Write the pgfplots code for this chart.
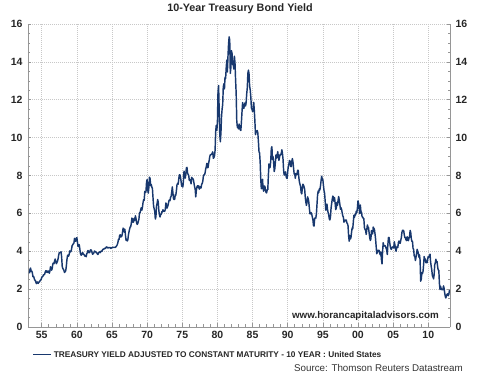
\documentclass[border=0pt]{standalone}
\usepackage{fontspec}
\setmainfont{Liberation Sans}
\usepackage{pgfplots}
\pgfplotsset{compat=1.18}
\definecolor{navy}{RGB}{24,56,110}
\definecolor{gridc}{RGB}{200,200,200}
\definecolor{axc}{RGB}{150,150,150}
\pgfplotsset{
  common/.style={
    scale only axis, width=422pt, height=303pt,
    at={(0pt,0pt)}, anchor=south west,
    xmin=1953.05, xmax=2013.09, ymin=0, ymax=16,
    ytick={0,2,...,16}, minor y tick num=3,
    axis line style={axc, line width=0.6pt, -},
    tick style={axc, line width=0.5pt},
    tick align=inside, major tick length=3.5pt, minor tick length=2.5pt,
    ticklabel style={font=\fontsize{10.5}{12}\selectfont\bfseries, text=black!85},
    /pgf/number format/assume math mode=true,
  }
}
\begin{document}
\begin{tikzpicture}
\begin{axis}[common,
  axis x line*=bottom, axis y line*=left,
  xtick={1955,1960,1965,1970,1975,1980,1985,1990,1995,2000,2005,2010},
  xticklabels={55,60,65,70,75,80,85,90,95,00,05,10},
  minor x tick num=4,
  grid=major, major grid style={gridc, dash pattern=on 0.8pt off 1.2pt, line width=0.5pt},
  yticklabel style={xshift=-2pt},
  xticklabel style={yshift=-1pt},
  legend style={at={(axis description cs:0.008,-0.092)}, anchor=west, draw=none, fill=none,
    font=\fontsize{8.3}{9}\selectfont\bfseries, text=black!85, inner sep=1pt},
  legend cell align=left,
  legend image code/.code={\draw[#1, line width=1.2pt] (0pt,0pt) -- (18pt,0pt);},
]
\addplot[navy, line width=1.45pt, line join=round] coordinates {
(1953.250,2.83)(1953.333,3.05)(1953.417,3.11)(1953.500,2.93)(1953.583,2.95)(1953.667,2.87)(1953.750,2.66)(1953.833,2.68)(1953.917,2.59)
(1954.000,2.48)(1954.083,2.47)(1954.167,2.37)(1954.250,2.29)(1954.333,2.37)(1954.417,2.38)(1954.500,2.30)(1954.583,2.36)(1954.667,2.38)(1954.750,2.43)(1954.833,2.48)(1954.917,2.51)
(1955.000,2.61)(1955.083,2.65)(1955.167,2.68)(1955.250,2.75)(1955.333,2.76)(1955.417,2.78)(1955.500,2.90)(1955.583,2.97)(1955.667,2.97)(1955.750,2.88)(1955.833,2.89)(1955.917,2.96)
(1956.000,2.90)(1956.083,2.84)(1956.167,2.96)(1956.250,3.18)(1956.333,3.07)(1956.417,3.00)(1956.500,3.11)(1956.583,3.33)(1956.667,3.38)(1956.750,3.34)(1956.833,3.49)(1956.917,3.59)
(1957.000,3.46)(1957.083,3.34)(1957.167,3.41)(1957.250,3.48)(1957.333,3.60)(1957.417,3.80)(1957.500,3.93)(1957.583,3.93)(1957.667,3.92)(1957.750,3.97)(1957.833,3.72)(1957.917,3.21)
(1958.000,3.09)(1958.083,3.05)(1958.167,2.98)(1958.250,2.88)(1958.333,2.92)(1958.417,2.97)(1958.500,3.20)(1958.583,3.54)(1958.667,3.76)(1958.750,3.80)(1958.833,3.74)(1958.917,3.86)
(1959.000,4.02)(1959.083,3.96)(1959.167,3.99)(1959.250,4.12)(1959.333,4.31)(1959.417,4.34)(1959.500,4.40)(1959.583,4.43)(1959.667,4.68)(1959.750,4.53)(1959.833,4.53)(1959.917,4.69)
(1960.000,4.72)(1960.083,4.49)(1960.167,4.25)(1960.250,4.28)(1960.333,4.35)(1960.417,4.15)(1960.500,3.90)(1960.583,3.80)(1960.667,3.80)(1960.750,3.89)(1960.833,3.93)(1960.917,3.84)
(1961.000,3.84)(1961.083,3.78)(1961.167,3.74)(1961.250,3.78)(1961.333,3.71)(1961.417,3.88)(1961.500,3.92)(1961.583,4.04)(1961.667,3.98)(1961.750,3.92)(1961.833,3.94)(1961.917,4.06)
(1962.000,4.08)(1962.083,4.04)(1962.167,3.93)(1962.250,3.84)(1962.333,3.87)(1962.417,3.91)(1962.500,4.01)(1962.583,3.98)(1962.667,3.98)(1962.750,3.93)(1962.833,3.92)(1962.917,3.86)
(1963.000,3.83)(1963.083,3.92)(1963.167,3.93)(1963.250,3.97)(1963.333,3.93)(1963.417,3.99)(1963.500,4.02)(1963.583,4.00)(1963.667,4.08)(1963.750,4.11)(1963.833,4.12)(1963.917,4.13)
(1964.000,4.17)(1964.083,4.15)(1964.167,4.22)(1964.250,4.23)(1964.333,4.20)(1964.417,4.17)(1964.500,4.19)(1964.583,4.19)(1964.667,4.20)(1964.750,4.19)(1964.833,4.15)(1964.917,4.18)
(1965.000,4.19)(1965.083,4.21)(1965.167,4.21)(1965.250,4.20)(1965.333,4.21)(1965.417,4.21)(1965.500,4.20)(1965.583,4.25)(1965.667,4.29)(1965.750,4.35)(1965.833,4.45)(1965.917,4.62)
(1966.000,4.61)(1966.083,4.83)(1966.167,4.87)(1966.250,4.75)(1966.333,4.78)(1966.417,4.81)(1966.500,5.02)(1966.583,5.22)(1966.667,5.18)(1966.750,5.01)(1966.833,5.16)(1966.917,4.84)
(1967.000,4.58)(1967.083,4.63)(1967.167,4.54)(1967.250,4.59)(1967.333,4.85)(1967.417,5.02)(1967.500,5.16)(1967.583,5.28)(1967.667,5.30)(1967.750,5.48)(1967.833,5.75)(1967.917,5.70)
(1968.000,5.53)(1968.083,5.56)(1968.167,5.74)(1968.250,5.64)(1968.333,5.87)(1968.417,5.72)(1968.500,5.50)(1968.583,5.42)(1968.667,5.46)(1968.750,5.58)(1968.833,5.70)(1968.917,6.03)
(1969.000,6.04)(1969.083,6.19)(1969.167,6.30)(1969.250,6.17)(1969.333,6.32)(1969.417,6.57)(1969.500,6.72)(1969.583,6.69)(1969.667,7.16)(1969.750,7.10)(1969.833,7.14)(1969.917,7.65)
(1970.000,7.79)(1970.083,7.24)(1970.167,7.07)(1970.250,7.39)(1970.333,7.91)(1970.417,7.84)(1970.500,7.46)(1970.583,7.53)(1970.667,7.39)(1970.750,7.33)(1970.833,6.84)(1970.917,6.39)
(1971.000,6.24)(1971.083,6.11)(1971.167,5.70)(1971.250,5.83)(1971.333,6.39)(1971.417,6.52)(1971.500,6.73)(1971.583,6.58)(1971.667,6.14)(1971.750,5.93)(1971.833,5.81)(1971.917,5.93)
(1972.000,5.95)(1972.083,6.08)(1972.167,6.07)(1972.250,6.19)(1972.333,6.13)(1972.417,6.11)(1972.500,6.11)(1972.583,6.21)(1972.667,6.55)(1972.750,6.48)(1972.833,6.28)(1972.917,6.36)
(1973.000,6.46)(1973.083,6.64)(1973.167,6.71)(1973.250,6.67)(1973.333,6.85)(1973.417,6.90)(1973.500,7.13)(1973.583,7.40)(1973.667,7.09)(1973.750,6.79)(1973.833,6.73)(1973.917,6.74)
(1974.000,6.99)(1974.083,6.96)(1974.167,7.21)(1974.250,7.51)(1974.333,7.58)(1974.417,7.54)(1974.500,7.81)(1974.583,8.04)(1974.667,8.04)(1974.750,7.90)(1974.833,7.68)(1974.917,7.43)
(1975.000,7.50)(1975.083,7.39)(1975.167,7.73)(1975.250,8.23)(1975.333,8.06)(1975.417,7.86)(1975.500,8.06)(1975.583,8.40)(1975.667,8.43)(1975.750,8.14)(1975.833,8.05)(1975.917,8.00)
(1976.000,7.74)(1976.083,7.79)(1976.167,7.73)(1976.250,7.56)(1976.333,7.90)(1976.417,7.86)(1976.500,7.83)(1976.583,7.77)(1976.667,7.59)(1976.750,7.41)(1976.833,7.29)(1976.917,6.87)
(1977.000,7.21)(1977.083,7.39)(1977.167,7.46)(1977.250,7.37)(1977.333,7.46)(1977.417,7.28)(1977.500,7.33)(1977.583,7.40)(1977.667,7.34)(1977.750,7.52)(1977.833,7.58)(1977.917,7.69)
(1978.000,7.96)(1978.083,8.03)(1978.167,8.04)(1978.250,8.15)(1978.333,8.35)(1978.417,8.46)(1978.500,8.64)(1978.583,8.41)(1978.667,8.42)(1978.750,8.64)(1978.833,8.81)(1978.917,9.01)
(1979.000,9.10)(1979.083,9.10)(1979.167,9.12)(1979.250,9.18)(1979.333,9.25)(1979.417,8.91)(1979.500,8.95)(1979.583,9.03)(1979.667,9.33)(1979.750,10.30)(1979.833,10.65)(1979.917,10.39)
(1980.000,10.80)(1980.083,12.41)(1980.167,12.75)(1980.250,11.47)(1980.333,10.18)(1980.417,9.78)(1980.500,10.25)(1980.583,11.10)(1980.667,11.51)(1980.750,11.75)(1980.833,12.68)(1980.917,12.84)
(1981.000,12.57)(1981.083,13.19)(1981.167,13.12)(1981.250,13.68)(1981.333,14.10)(1981.417,13.47)(1981.500,14.28)(1981.583,14.94)(1981.667,15.32)(1981.750,15.15)(1981.833,13.39)(1981.917,13.72)
(1982.000,14.59)(1982.083,14.43)(1982.167,13.86)(1982.250,13.87)(1982.333,13.62)(1982.417,14.30)(1982.500,13.95)(1982.583,13.06)(1982.667,12.34)(1982.750,10.91)(1982.833,10.55)(1982.917,10.54)
(1983.000,10.46)(1983.083,10.72)(1983.167,10.51)(1983.250,10.40)(1983.333,10.38)(1983.417,10.85)(1983.500,11.38)(1983.583,11.85)(1983.667,11.65)(1983.750,11.54)(1983.833,11.69)(1983.917,11.83)
(1984.000,11.67)(1984.083,11.84)(1984.167,12.32)(1984.250,12.63)(1984.333,13.41)(1984.417,13.56)(1984.500,13.36)(1984.583,12.72)(1984.667,12.52)(1984.750,12.16)(1984.833,11.57)(1984.917,11.50)
(1985.000,11.38)(1985.083,11.51)(1985.167,11.86)(1985.250,11.43)(1985.333,10.85)(1985.417,10.16)(1985.500,10.31)(1985.583,10.33)(1985.667,10.37)(1985.750,10.24)(1985.833,9.78)(1985.917,9.26)
(1986.000,9.19)(1986.083,8.70)(1986.167,7.78)(1986.250,7.30)(1986.333,7.71)(1986.417,7.80)(1986.500,7.30)(1986.583,7.17)(1986.667,7.45)(1986.750,7.43)(1986.833,7.25)(1986.917,7.11)
(1987.000,7.08)(1987.083,7.25)(1987.167,7.25)(1987.250,8.02)(1987.333,8.61)(1987.417,8.40)(1987.500,8.45)(1987.583,8.76)(1987.667,9.42)(1987.750,9.52)(1987.833,8.86)(1987.917,8.99)
(1988.000,8.67)(1988.083,8.21)(1988.167,8.37)(1988.250,8.72)(1988.333,9.09)(1988.417,8.92)(1988.500,9.06)(1988.583,9.26)(1988.667,8.98)(1988.750,8.80)(1988.833,8.96)(1988.917,9.11)
(1989.000,9.09)(1989.083,9.17)(1989.167,9.36)(1989.250,9.18)(1989.333,8.86)(1989.417,8.28)(1989.500,8.02)(1989.583,8.11)(1989.667,8.19)(1989.750,8.01)(1989.833,7.87)(1989.917,7.84)
(1990.000,8.21)(1990.083,8.47)(1990.167,8.59)(1990.250,8.79)(1990.333,8.76)(1990.417,8.48)(1990.500,8.47)(1990.583,8.75)(1990.667,8.89)(1990.750,8.72)(1990.833,8.39)(1990.917,8.08)
(1991.000,8.09)(1991.083,7.85)(1991.167,8.11)(1991.250,8.04)(1991.333,8.07)(1991.417,8.28)(1991.500,8.27)(1991.583,7.90)(1991.667,7.65)(1991.750,7.53)(1991.833,7.42)(1991.917,7.09)
(1992.000,7.03)(1992.083,7.34)(1992.167,7.54)(1992.250,7.48)(1992.333,7.39)(1992.417,7.26)(1992.500,6.84)(1992.583,6.59)(1992.667,6.42)(1992.750,6.59)(1992.833,6.87)(1992.917,6.77)
(1993.000,6.60)(1993.083,6.26)(1993.167,5.98)(1993.250,5.97)(1993.333,6.04)(1993.417,5.96)(1993.500,5.81)(1993.583,5.68)(1993.667,5.36)(1993.750,5.33)(1993.833,5.72)(1993.917,5.77)
(1994.000,5.75)(1994.083,5.97)(1994.167,6.48)(1994.250,6.97)(1994.333,7.18)(1994.417,7.10)(1994.500,7.30)(1994.583,7.24)(1994.667,7.46)(1994.750,7.74)(1994.833,7.96)(1994.917,7.81)
(1995.000,7.78)(1995.083,7.47)(1995.167,7.20)(1995.250,7.06)(1995.333,6.63)(1995.417,6.17)(1995.500,6.28)(1995.583,6.49)(1995.667,6.20)(1995.750,6.04)(1995.833,5.93)(1995.917,5.71)
(1996.000,5.65)(1996.083,5.81)(1996.167,6.27)(1996.250,6.51)(1996.333,6.74)(1996.417,6.91)(1996.500,6.87)(1996.583,6.64)(1996.667,6.83)(1996.750,6.53)(1996.833,6.20)(1996.917,6.30)
(1997.000,6.58)(1997.083,6.42)(1997.167,6.69)(1997.250,6.89)(1997.333,6.71)(1997.417,6.49)(1997.500,6.22)(1997.583,6.30)(1997.667,6.21)(1997.750,6.03)(1997.833,5.88)(1997.917,5.81)
(1998.000,5.54)(1998.083,5.57)(1998.167,5.65)(1998.250,5.64)(1998.333,5.65)(1998.417,5.50)(1998.500,5.46)(1998.583,5.34)(1998.667,4.81)(1998.750,4.53)(1998.833,4.83)(1998.917,4.65)
(1999.000,4.72)(1999.083,5.00)(1999.167,5.23)(1999.250,5.18)(1999.333,5.54)(1999.417,5.90)(1999.500,5.79)(1999.583,5.94)(1999.667,5.92)(1999.750,6.11)(1999.833,6.03)(1999.917,6.28)
(2000.000,6.66)(2000.083,6.52)(2000.167,6.26)(2000.250,5.99)(2000.333,6.44)(2000.417,6.10)(2000.500,6.05)(2000.583,5.83)(2000.667,5.80)(2000.750,5.74)(2000.833,5.72)(2000.917,5.24)
(2001.000,5.16)(2001.083,5.10)(2001.167,4.89)(2001.250,5.14)(2001.333,5.39)(2001.417,5.28)(2001.500,5.24)(2001.583,4.97)(2001.667,4.73)(2001.750,4.57)(2001.833,4.65)(2001.917,5.09)
(2002.000,5.04)(2002.083,4.91)(2002.167,5.28)(2002.250,5.21)(2002.333,5.16)(2002.417,4.93)(2002.500,4.65)(2002.583,4.26)(2002.667,3.87)(2002.750,3.94)(2002.833,4.05)(2002.917,4.03)
(2003.000,4.05)(2003.083,3.90)(2003.167,3.81)(2003.250,3.96)(2003.333,3.57)(2003.417,3.33)(2003.500,3.98)(2003.583,4.45)(2003.667,4.27)(2003.750,4.29)(2003.833,4.30)(2003.917,4.27)
(2004.000,4.15)(2004.083,4.08)(2004.167,3.83)(2004.250,4.35)(2004.333,4.72)(2004.417,4.73)(2004.500,4.50)(2004.583,4.28)(2004.667,4.13)(2004.750,4.10)(2004.833,4.19)(2004.917,4.23)
(2005.000,4.22)(2005.083,4.17)(2005.167,4.50)(2005.250,4.34)(2005.333,4.14)(2005.417,4.00)(2005.500,4.18)(2005.583,4.26)(2005.667,4.20)(2005.750,4.46)(2005.833,4.54)(2005.917,4.47)
(2006.000,4.42)(2006.083,4.57)(2006.167,4.72)(2006.250,4.99)(2006.333,5.11)(2006.417,5.11)(2006.500,5.09)(2006.583,4.88)(2006.667,4.72)(2006.750,4.73)(2006.833,4.60)(2006.917,4.56)
(2007.000,4.76)(2007.083,4.72)(2007.167,4.56)(2007.250,4.69)(2007.333,4.75)(2007.417,5.10)(2007.500,5.00)(2007.583,4.67)(2007.667,4.52)(2007.750,4.53)(2007.833,4.15)(2007.917,4.10)
(2008.000,3.74)(2008.083,3.74)(2008.167,3.51)(2008.250,3.68)(2008.333,3.88)(2008.417,4.10)(2008.500,4.01)(2008.583,3.89)(2008.667,3.69)(2008.750,3.81)(2008.833,3.53)(2008.917,2.42)
(2009.000,2.52)(2009.083,2.87)(2009.167,2.82)(2009.250,2.93)(2009.333,3.29)(2009.417,3.72)(2009.500,3.56)(2009.583,3.59)(2009.667,3.40)(2009.750,3.39)(2009.833,3.40)(2009.917,3.59)
(2010.000,3.73)(2010.083,3.69)(2010.167,3.73)(2010.250,3.85)(2010.333,3.42)(2010.417,3.20)(2010.500,3.01)(2010.583,2.70)(2010.667,2.65)(2010.750,2.54)(2010.833,2.76)(2010.917,3.29)
(2011.000,3.39)(2011.083,3.58)(2011.167,3.41)(2011.250,3.46)(2011.333,3.17)(2011.417,3.00)(2011.500,3.00)(2011.583,2.30)(2011.667,1.98)(2011.750,2.15)(2011.833,2.01)(2011.917,1.98)
(2012.000,1.97)(2012.083,1.97)(2012.167,2.17)(2012.250,2.05)(2012.333,1.80)(2012.417,1.62)(2012.500,1.53)(2012.583,1.68)(2012.667,1.72)(2012.750,1.75)(2012.833,1.65)(2012.917,1.72)
(2013.000,1.91)(2013.083,1.98)
};
\addlegendentry{TREASURY YIELD ADJUSTED TO CONSTANT MATURITY - 10 YEAR : United States}
\end{axis}
\begin{axis}[common,
  hide x axis, axis y line*=right,
  yticklabel style={xshift=2pt},
]
\end{axis}
\node[font=\fontsize{10.8}{13}\selectfont\bfseries, text=black!85] at (212pt,318pt) {10-Year Treasury Bond Yield};
\node[anchor=east, inner sep=0pt, font=\fontsize{9.8}{11}\selectfont\bfseries, text=black!85] at (411pt,11pt) {www.horancapitaladvisors.com};
\node[anchor=east, inner sep=0pt, font=\fontsize{9.8}{11}\selectfont, text=black!80] at (435pt,-41pt) {Source: Thomson Reuters Datastream};
\pgfresetboundingbox
\path[use as bounding box] (-28pt,-48pt) rectangle (452pt,327pt);
\end{tikzpicture}
\end{document}
